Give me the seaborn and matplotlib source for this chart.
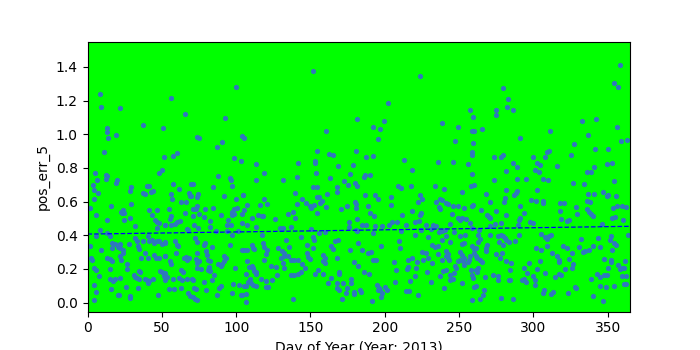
import numpy as np
import pandas as pd
import matplotlib
matplotlib.use("Agg")
import matplotlib.pyplot as plt
import seaborn as sns

# (day of year, pos_err_5) pairs, grouped by part of the year
pts_jan_feb = [(8.3,1.24),(9.0,1.16),(21.7,1.155),(37.1,1.054),(50.5,1.038),(13.2,1.036),(13.2,1.012),(13.6,0.977),(19.0,0.994),(11.0,0.894),(51.2,0.864),(48.3,0.769),(50.1,0.789),(4.9,0.769),(12.5,0.759),(13.4,0.749),(12.5,0.733),(19.9,0.730),(19.2,0.710),(6.3,0.726),(3.6,0.696),(4.7,0.666),(7.2,0.650),(4.3,0.615),(1.8,0.561),(15.9,0.575),(28.4,0.664),(29.5,0.686),(37.1,0.650),(38.9,0.645),(40.0,0.694),(41.1,0.690),(42.5,0.658),(44.3,0.660),(29.1,0.587),(23.7,0.552),(22.6,0.536),(24.6,0.532),(23.0,0.530),(13.2,0.490),(5.6,0.522),(24.6,0.490),(32.2,0.457),(28.6,0.502),(41.1,0.550),(43.4,0.522),(47.0,0.550),(45.6,0.490),(46.5,0.476),(48.3,0.472),(52.3,0.463),(47.0,0.443),(8.3,0.429),(13.2,0.413),(5.4,0.397),(2.0,0.334),(9.4,0.312),(15.4,0.393),(16.3,0.354),(18.8,0.350),(21.0,0.342),(21.9,0.350),(20.4,0.330),(21.7,0.324),(16.3,0.324),(23.7,0.314),(27.7,0.348),(32.2,0.382),(33.1,0.366),(33.8,0.334),(34.4,0.318),(37.1,0.366),(40.5,0.397),(41.1,0.366),(43.2,0.374),(44.5,0.354),(46.7,0.364),(47.9,0.366),(50.1,0.346),(51.9,0.362),(2.5,0.263),(2.7,0.255),(13.2,0.265),(15.0,0.261),(16.5,0.245),(21.7,0.279),(23.7,0.295),(26.4,0.229),(26.8,0.200),(35.8,0.265),(38.9,0.295),(40.5,0.265),(44.7,0.285),(45.8,0.265),(47.9,0.265),(51.9,0.275),(4.7,0.206),(5.4,0.192),(7.6,0.160),(15.0,0.200),(22.4,0.255),(34.4,0.190),(35.6,0.180),(31.5,0.166),(32.2,0.152),(33.3,0.144),(34.4,0.140),(38.5,0.140),(40.0,0.136),(40.5,0.117),(41.6,0.127),(43.8,0.140),(49.0,0.190),(50.1,0.180),(51.4,0.160),(15.2,0.140),(17.4,0.127),(18.8,0.140),(21.7,0.144),(4.3,0.103),(5.4,0.063),(4.7,0.018),(16.1,0.081),(20.6,0.047),(21.5,0.045),(25.7,0.093),(28.4,0.042),(28.4,0.028),(33.8,0.087),(47.2,0.047),(52.3,0.136)]

pts_feb_apr = [(100.2,1.279),(55.9,1.214),(65.3,1.121),(92.8,1.095),(73.4,0.983),(74.7,0.977),(103.8,0.987),(86.8,0.927),(90.8,0.953),(57.3,0.868),(60.0,0.888),(98.9,0.860),(103.3,0.840),(88.1,0.751),(95.7,0.739),(96.6,0.730),(97.5,0.690),(57.3,0.706),(69.3,0.706),(70.7,0.706),(61.7,0.674),(84.5,0.684),(55.9,0.645),(56.8,0.615),(68.0,0.650),(68.9,0.631),(69.8,0.631),(74.3,0.647),(73.8,0.627),(62.6,0.597),(66.2,0.597),(92.1,0.635),(100.2,0.615),(104.7,0.641),(55.0,0.556),(73.4,0.571),(72.9,0.558),(70.7,0.556),(79.2,0.556),(84.5,0.561),(65.8,0.532),(75.1,0.528),(78.7,0.508),(98.9,0.556),(100.6,0.561),(97.1,0.540),(98.4,0.528),(97.5,0.522),(89.5,0.522),(103.8,0.528),(55.5,0.496),(55.9,0.512),(71.1,0.512),(52.3,0.461),(56.4,0.459),(58.6,0.469),(59.9,0.480),(62.2,0.484),(71.6,0.463),(82.3,0.482),(74.3,0.443),(82.3,0.449),(67.1,0.437),(67.5,0.429),(86.3,0.425),(94.8,0.492),(96.6,0.461),(93.9,0.461),(97.5,0.403),(104.2,0.473),(93.9,0.423),(101.1,0.423),(51.9,0.354),(59.0,0.364),(60.4,0.344),(60.8,0.334),(72.5,0.384),(73.4,0.360),(79.2,0.354),(78.7,0.344),(84.1,0.330),(96.2,0.342),(59.5,0.295),(73.4,0.295),(79.6,0.304),(80.1,0.285),(52.3,0.275),(55.5,0.249),(55.9,0.231),(64.9,0.265),(66.2,0.271),(67.1,0.255),(68.0,0.265),(72.9,0.259),(74.7,0.249),(73.4,0.235),(73.4,0.206),(81.0,0.255),(82.3,0.249),(91.7,0.279),(93.0,0.265),(92.1,0.249),(90.4,0.231),(87.7,0.227),(89.5,0.219),(63.1,0.196),(64.4,0.180),(76.1,0.200),(81.0,0.196),(81.9,0.212),(82.3,0.186),(99.3,0.206),(104.2,0.314),(51.9,0.176),(53.2,0.152),(57.3,0.142),(61.3,0.148),(63.5,0.132),(67.1,0.142),(70.2,0.142),(70.7,0.136),(78.3,0.125),(85.4,0.164),(83.6,0.132),(87.2,0.045),(88.6,0.087),(89.9,0.101),(98.0,0.111),(102.0,0.107),(54.6,0.083),(58.2,0.083),(62.6,0.087),(67.5,0.057),(68.9,0.042),(71.1,0.032),(72.5,0.022),(73.4,0.018),(72.9,0.083),(71.6,0.087),(79.6,0.073),(97.5,0.057),(103.3,0.047)]

pts_apr_jun = [(151.6,1.374),(105.5,0.975),(113.1,0.822),(119.0,0.769),(113.6,0.730),(131.5,0.730),(141.8,0.828),(154.7,0.900),(152.9,0.844),(153.4,0.832),(153.8,0.769),(140.9,0.745),(104.6,0.639),(152.0,0.686),(154.7,0.686),(139.5,0.650),(144.4,0.615),(119.0,0.615),(154.7,0.627),(107.3,0.579),(115.8,0.579),(120.7,0.585),(140.9,0.587),(147.1,0.591),(149.4,0.571),(150.7,0.563),(152.5,0.579),(105.5,0.552),(138.2,0.536),(134.6,0.528),(154.3,0.530),(114.9,0.522),(117.2,0.516),(118.1,0.512),(110.9,0.500),(126.1,0.496),(107.3,0.461),(113.1,0.449),(129.2,0.441),(131.5,0.443),(136.8,0.449),(139.5,0.502),(150.3,0.439),(117.6,0.401),(133.7,0.370),(143.5,0.389),(152.0,0.389),(152.5,0.374),(118.1,0.354),(118.5,0.330),(110.9,0.344),(111.3,0.324),(111.8,0.318),(105.5,0.314),(107.3,0.310),(120.7,0.310),(120.3,0.291),(128.3,0.322),(135.9,0.330),(147.6,0.342),(131.0,0.304),(132.4,0.295),(131.9,0.279),(130.1,0.265),(118.5,0.255),(135.1,0.275),(136.8,0.251),(138.6,0.255),(141.8,0.255),(147.6,0.295),(148.5,0.271),(149.4,0.259),(152.0,0.324),(107.3,0.247),(108.7,0.212),(110.5,0.219),(111.3,0.204),(112.2,0.188),(113.6,0.184),(113.1,0.172),(123.4,0.215),(126.6,0.212),(131.5,0.235),(132.4,0.206),(144.4,0.231),(146.2,0.206),(136.8,0.164),(139.1,0.166),(141.3,0.172),(143.5,0.184),(153.4,0.172),(155.2,0.196),(106.4,0.168),(105.1,0.101),(106.9,0.101),(109.6,0.140),(108.2,0.121),(110.0,0.117),(111.3,0.107),(113.1,0.101),(116.7,0.140),(120.3,0.130),(124.3,0.136),(127.5,0.164),(120.3,0.093),(121.6,0.093),(106.4,0.053),(104.2,0.047),(106.9,0.004),(138.2,0.022)]

pts_jun_jul = [(202.1,1.184),(181.5,1.093),(199.4,1.077),(160.5,1.018),(191.8,1.042),(196.7,1.030),(195.4,0.971),(180.6,0.900),(162.3,0.882),(165.0,0.876),(187.4,0.864),(191.8,0.870),(168.6,0.811),(178.4,0.820),(163.2,0.739),(176.6,0.763),(186.0,0.745),(186.9,0.757),(190.0,0.757),(168.1,0.688),(168.1,0.656),(172.6,0.722),(175.3,0.700),(179.7,0.710),(181.5,0.690),(161.0,0.647),(156.0,0.625),(157.8,0.601),(156.5,0.591),(160.5,0.567),(170.4,0.556),(174.4,0.575),(180.2,0.597),(180.6,0.583),(180.6,0.563),(186.5,0.639),(193.2,0.639),(195.4,0.615),(188.7,0.575),(204.3,0.627),(203.9,0.579),(181.5,0.496),(190.0,0.530),(192.7,0.512),(176.2,0.476),(184.7,0.461),(187.4,0.461),(193.2,0.453),(198.1,0.453),(202.6,0.463),(204.8,0.476),(207.9,0.480),(175.7,0.449),(180.6,0.433),(181.5,0.423),(156.0,0.413),(160.1,0.419),(191.8,0.413),(166.3,0.364),(168.6,0.374),(163.6,0.334),(165.4,0.318),(176.6,0.314),(182.0,0.354),(184.7,0.312),(188.7,0.295),(190.5,0.300),(197.2,0.338),(158.7,0.285),(160.1,0.265),(158.7,0.245),(159.6,0.235),(167.7,0.265),(179.3,0.243),(182.0,0.219),(191.8,0.255),(194.1,0.255),(206.1,0.243),(207.5,0.196),(158.3,0.172),(169.0,0.180),(169.5,0.168),(186.0,0.184),(189.1,0.172),(206.6,0.125),(163.6,0.146),(161.9,0.117),(167.7,0.117),(168.1,0.085),(169.5,0.073),(172.1,0.117),(174.4,0.087),(173.9,0.057),(171.3,0.022),(177.5,0.140),(177.1,0.117),(179.3,0.061),(179.3,0.053),(183.3,0.073),(183.8,0.061),(191.4,0.010),(195.0,0.107),(195.8,0.085),(196.7,0.073),(198.1,0.057),(197.2,0.034),(195.4,0.073),(200.3,0.093),(201.7,0.077)]

pts_jul_sep = [(224.0,1.346),(257.5,1.145),(259.3,1.105),(238.3,1.066),(249.0,1.042),(258.4,1.018),(259.8,1.018),(247.3,0.961),(259.3,0.947),(258.4,0.896),(258.4,0.876),(212.8,0.848),(218.6,0.789),(236.1,0.834),(245.9,0.834),(255.8,0.822),(258.4,0.763),(209.2,0.694),(210.6,0.678),(217.7,0.694),(233.8,0.694),(239.7,0.674),(258.0,0.690),(259.8,0.698),(251.7,0.654),(224.0,0.639),(225.3,0.615),(222.2,0.599),(234.7,0.599),(237.0,0.615),(238.8,0.607),(241.4,0.591),(242.3,0.587),(236.5,0.567),(237.0,0.556),(245.9,0.575),(249.5,0.571),(253.1,0.561),(258.4,0.575),(259.3,0.579),(218.6,0.544),(211.9,0.520),(224.5,0.532),(223.6,0.520),(245.0,0.528),(249.5,0.504),(250.4,0.492),(252.2,0.500),(254.4,0.496),(214.6,0.461),(220.4,0.480),(223.1,0.486),(227.6,0.463),(232.5,0.463),(234.3,0.457),(244.1,0.467),(257.5,0.473),(210.6,0.425),(220.4,0.401),(224.5,0.433),(231.2,0.437),(236.5,0.417),(238.3,0.423),(240.5,0.429),(241.4,0.393),(246.4,0.417),(250.4,0.393),(254.0,0.403),(258.4,0.441),(228.9,0.389),(238.3,0.370),(209.7,0.364),(210.1,0.324),(244.1,0.362),(251.7,0.350),(253.1,0.354),(232.1,0.342),(233.8,0.330),(235.6,0.334),(224.9,0.300),(227.6,0.295),(229.4,0.265),(236.1,0.291),(241.0,0.304),(242.3,0.291),(241.4,0.279),(242.8,0.265),(243.2,0.251),(250.8,0.302),(251.7,0.283),(250.4,0.255),(253.5,0.265),(252.6,0.247),(256.6,0.255),(257.5,0.275),(258.4,0.334),(259.8,0.318),(259.8,0.295),(215.9,0.255),(218.2,0.265),(221.8,0.239),(225.8,0.255),(238.8,0.251),(232.1,0.235),(249.0,0.245),(247.3,0.219),(248.1,0.206),(253.5,0.223),(255.8,0.239),(258.0,0.196),(215.1,0.200),(215.5,0.212),(220.9,0.204),(228.5,0.184),(239.2,0.188),(241.4,0.196),(244.1,0.166),(246.8,0.176),(220.4,0.156),(237.4,0.156),(216.8,0.128),(231.2,0.125),(243.7,0.136),(245.9,0.140),(252.2,0.117),(258.4,0.166),(259.3,0.146),(259.8,0.093),(239.7,0.087),(214.6,0.069),(216.0,0.069),(222.7,0.045),(258.4,0.018)]

pts_sep_nov = [(279.4,1.273),(282.6,1.208),(282.1,1.161),(286.1,1.143),(275.0,1.143),(275.0,1.113),(265.1,1.030),(311.2,1.020),(291.1,0.977),(273.2,0.864),(278.5,0.864),(279.4,0.876),(300.0,0.864),(308.0,0.864),(308.9,0.892),(310.3,0.900),(286.6,0.832),(289.3,0.805),(281.7,0.781),(302.7,0.828),(304.5,0.817),(301.3,0.785),(304.0,0.773),(273.2,0.730),(289.3,0.733),(295.1,0.733),(306.7,0.733),(309.8,0.730),(281.7,0.666),(302.7,0.670),(289.3,0.662),(288.4,0.650),(287.0,0.639),(268.2,0.645),(281.2,0.621),(279.9,0.595),(270.5,0.595),(298.7,0.607),(301.8,0.601),(306.7,0.603),(306.7,0.591),(264.7,0.552),(275.0,0.544),(291.1,0.575),(293.7,0.532),(291.1,0.502),(290.2,0.492),(281.7,0.520),(269.1,0.520),(270.0,0.508),(270.9,0.500),(274.5,0.469),(278.1,0.473),(270.5,0.457),(297.8,0.480),(299.6,0.473),(289.7,0.461),(263.3,0.429),(262.4,0.403),(271.0,0.399),(276.3,0.393),(278.1,0.401),(279.4,0.397),(280.8,0.382),(281.7,0.374),(283.5,0.362),(287.5,0.366),(290.6,0.401),(304.9,0.409),(308.0,0.389),(308.9,0.378),(310.3,0.397),(311.6,0.401),(263.8,0.378),(262.4,0.358),(276.7,0.358),(269.1,0.342),(268.2,0.324),(267.8,0.308),(279.4,0.344),(261.1,0.324),(301.8,0.324),(305.4,0.310),(309.4,0.338),(312.5,0.295),(275.0,0.291),(277.6,0.263),(279.0,0.295),(261.1,0.279),(262.0,0.265),(264.2,0.255),(265.1,0.243),(281.7,0.247),(285.2,0.235),(296.9,0.235),(304.5,0.247),(261.1,0.196),(262.9,0.204),(262.0,0.184),(284.4,0.196),(293.7,0.208),(302.7,0.200),(307.6,0.176),(296.0,0.176),(299.6,0.156),(272.7,0.166),(275.9,0.156),(276.3,0.132),(267.4,0.152),(283.5,0.136),(284.4,0.132),(292.0,0.132),(293.7,0.140),(295.1,0.125),(300.9,0.132),(301.3,0.107),(261.1,0.097),(266.9,0.077),(266.0,0.045),(306.3,0.057),(307.2,0.073),(312.1,0.049),(278.5,0.030),(286.6,0.022),(263.8,0.022)]

pts_nov_dec = [(358.1,1.410),(354.1,1.303),(356.8,1.279),(332.6,1.081),(342.0,1.089),(356.3,1.042),(336.6,0.994),(359.0,0.959),(363.0,0.967),(327.3,0.941),(341.6,0.911),(350.1,0.913),(325.5,0.876),(315.6,0.813),(340.7,0.805),(335.8,0.773),(338.9,0.773),(349.6,0.824),(352.7,0.828),(326.8,0.709),(334.0,0.702),(354.1,0.722),(336.6,0.645),(340.7,0.647),(346.9,0.654),(350.1,0.641),(349.6,0.631),(355.4,0.635),(335.8,0.603),(338.0,0.595),(317.9,0.591),(320.5,0.591),(328.6,0.567),(317.9,0.544),(336.2,0.556),(337.5,0.540),(338.9,0.528),(339.8,0.516),(353.6,0.563),(356.3,0.571),(359.9,0.571),(362.1,0.567),(329.5,0.528),(353.2,0.504),(355.0,0.508),(318.8,0.496),(322.3,0.484),(323.7,0.488),(360.4,0.492),(346.0,0.469),(363.5,0.401),(332.2,0.378),(343.4,0.384),(351.9,0.397),(351.4,0.374),(354.5,0.354),(355.4,0.342),(320.1,0.338),(322.8,0.324),(330.8,0.330),(337.1,0.314),(339.8,0.338),(333.1,0.302),(334.4,0.304),(345.1,0.330),(325.9,0.295),(315.6,0.275),(317.0,0.251),(317.4,0.239),(324.1,0.259),(352.7,0.314),(352.3,0.255),(351.9,0.243),(347.4,0.259),(326.8,0.227),(325.9,0.206),(350.1,0.206),(357.2,0.225),(358.1,0.200),(359.5,0.206),(360.8,0.208),(361.7,0.245),(321.4,0.200),(314.7,0.152),(317.4,0.168),(318.8,0.164),(338.9,0.140),(342.5,0.168),(345.1,0.152),(347.4,0.164),(349.6,0.164),(359.9,0.160),(362.1,0.156),(360.8,0.113),(362.1,0.109),(344.7,0.097),(348.7,0.093),(354.1,0.097),(328.2,0.093),(329.0,0.085),(313.4,0.061),(323.2,0.057),(340.2,0.042),(346.9,0.010)]

# Linear trend
trend_days = [0, 365]
trend_intercept = 0.407
trend_slope = 0.000126

x_ticks = [0, 50, 100, 150, 200, 250, 300, 350]
y_ticks = [0.0, 0.2, 0.4, 0.6, 0.8, 1.0, 1.2, 1.4]

all_pts = (pts_jan_feb + pts_feb_apr + pts_apr_jun + pts_jun_jul
           + pts_jul_sep + pts_sep_nov + pts_nov_dec)
df = pd.DataFrame(all_pts, columns=["day", "pos_err_5"])
trend = pd.DataFrame({"day": trend_days,
                      "fit": [trend_intercept + trend_slope * d for d in trend_days]})

fig, ax = plt.subplots(figsize=(7, 3.5), dpi=100)
ax.set_facecolor("#00ff00")
sns.scatterplot(data=df, x="day", y="pos_err_5", ax=ax, color="#2f78bd",
                s=14, linewidth=0, marker="o")
sns.lineplot(data=trend, x="day", y="fit", ax=ax, color="blue",
             linestyle="--", linewidth=0.9)
ax.set_xlim(0, 365)
ax.set_ylim(-0.053, 1.548)
ax.set_xticks(x_ticks)
ax.set_yticks(y_ticks)
ax.set_yticklabels([f"{v:.1f}" for v in y_ticks])
ax.set_xlabel("Day of Year (Year: 2013)")
ax.set_ylabel("pos_err_5")
fig.savefig("out.png", dpi=100)
